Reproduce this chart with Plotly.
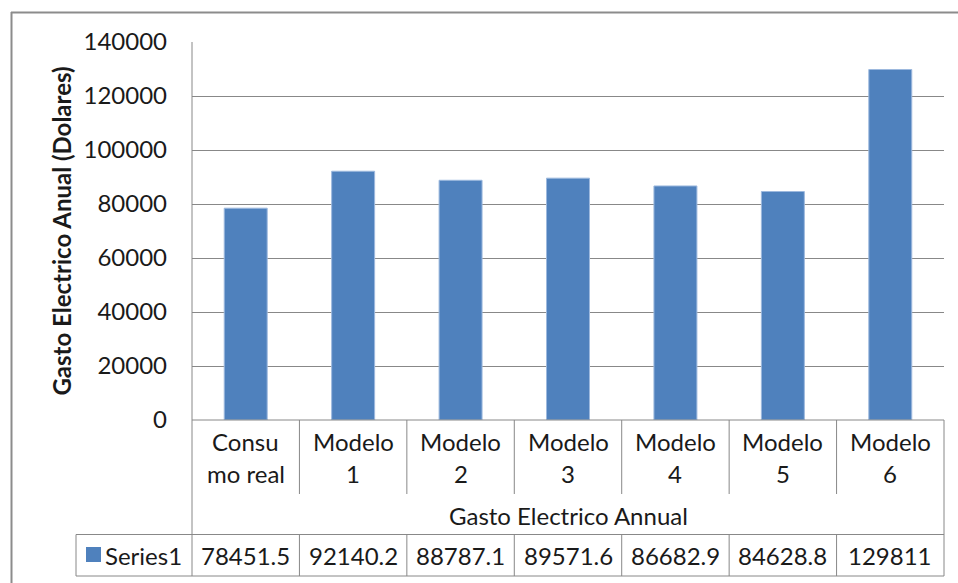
import plotly.graph_objects as go

categories = ["Consu<br>mo real", "Modelo<br>1", "Modelo<br>2", "Modelo<br>3", "Modelo<br>4", "Modelo<br>5", "Modelo<br>6"]
values = [78451.5, 92140.2, 88787.1, 89571.6, 86682.9, 84628.8, 129811]
series_name = "Series1"
axis_group_title = "Gasto Electrico Annual"
y_title = "Gasto Electrico Anual (Dolares)"
y_ticks = [0, 20000, 40000, 60000, 80000, 100000, 120000, 140000]

W, H = 958, 583
# plot area in pixels
L, R, T, B = 192, 944, 42, 420
FONT = "Lato"
FS = 24
TXT = "#1a1a1a"
LINE = "#888888"
BLUE = "#4F81BD"

def px(x):
    return (x - L) / (R - L)

def py(y):
    return (B - y) / (B - T)

xs = list(range(len(categories)))
fig = go.Figure()
fig.add_trace(go.Bar(x=xs, y=values, width=0.4, marker=dict(color=BLUE, line=dict(color="#9DB9DE", width=1)),
                     showlegend=False, hoverinfo="skip"))

shapes = []
ann = []

def hline(x0, x1, y, w=1, color=LINE):
    shapes.append(dict(type="line", xref="paper", yref="paper", x0=px(x0), x1=px(x1), y0=py(y), y1=py(y),
                       line=dict(color=color, width=w)))

def vline(x, y0, y1, w=1, color=LINE):
    shapes.append(dict(type="line", xref="paper", yref="paper", x0=px(x), x1=px(x), y0=py(y0), y1=py(y1),
                       line=dict(color=color, width=w)))

# outer chart border (only top and left visible)
hline(11, W + 2, 12.5, w=2, color="#8c8c8c")
vline(11.5, 12, H + 2, w=2, color="#8c8c8c")

# table lines
cell_w = (R - L) / len(categories)
vline(L, T, 576)
vline(R, B, 576)
hline(L, R, B)
hline(76, R, 534.5)
hline(76, R, 576)
vline(76, 534.5, 576)
for i in range(1, len(categories)):
    xb = L + i * cell_w
    vline(xb, B, 494)
    vline(xb, 534.5, 576)

# category labels
for i, c in enumerate(categories):
    parts = c.split("<br>")
    for j, p in enumerate(parts):
        ann.append(dict(x=i, xref="x", y=py(441 + 32 * j), yref="paper", text=p, showarrow=False,
                        xanchor="center", yanchor="middle", font=dict(family=FONT, size=FS, color=TXT)))

ann.append(dict(x=px((L + R) / 2), xref="paper", y=py(515), yref="paper", text=axis_group_title, showarrow=False,
                xanchor="center", yanchor="middle", font=dict(family=FONT, size=FS, color=TXT)))

# data row
for i, v in enumerate(values):
    ann.append(dict(x=i, xref="x", y=py(555.5), yref="paper", text=f"{v:.6g}", showarrow=False,
                    xanchor="center", yanchor="middle", font=dict(family=FONT, size=FS, color=TXT)))

shapes.append(dict(type="rect", xref="paper", yref="paper", x0=px(86), x1=px(101), y0=py(547), y1=py(562),
                   fillcolor=BLUE, line=dict(width=0)))
ann.append(dict(x=px(103), xref="paper", y=py(555.5), yref="paper", text=series_name, showarrow=False,
                xanchor="left", yanchor="middle", font=dict(family=FONT, size=FS, color=TXT)))

fig.update_layout(
    width=W, height=H,
    margin=dict(l=L, r=W - R, t=T, b=H - B, pad=0),
    paper_bgcolor="white", plot_bgcolor="white",
    shapes=shapes, annotations=ann,
    xaxis=dict(range=[-0.5, len(categories) - 0.5], showticklabels=False, showgrid=False, zeroline=False,
               showline=False, fixedrange=True, automargin=False),
    yaxis=dict(range=[0, 140000], tickvals=y_ticks, ticktext=[str(v) for v in y_ticks],
               showgrid=True, gridcolor=LINE, gridwidth=1, automargin=False,
               zeroline=False, showline=False, ticks="", ticklabelstandoff=24,
               tickfont=dict(family=FONT, size=FS, color=TXT),
               title=dict(text="<b>" + y_title + "</b>", font=dict(family=FONT, size=FS, color=TXT), standoff=5)),
    font=dict(family=FONT),
)

fig.write_html("out.html", config={"displayModeBar": False},
               post_script="document.body.style.margin='0';document.body.style.overflow='hidden';")
